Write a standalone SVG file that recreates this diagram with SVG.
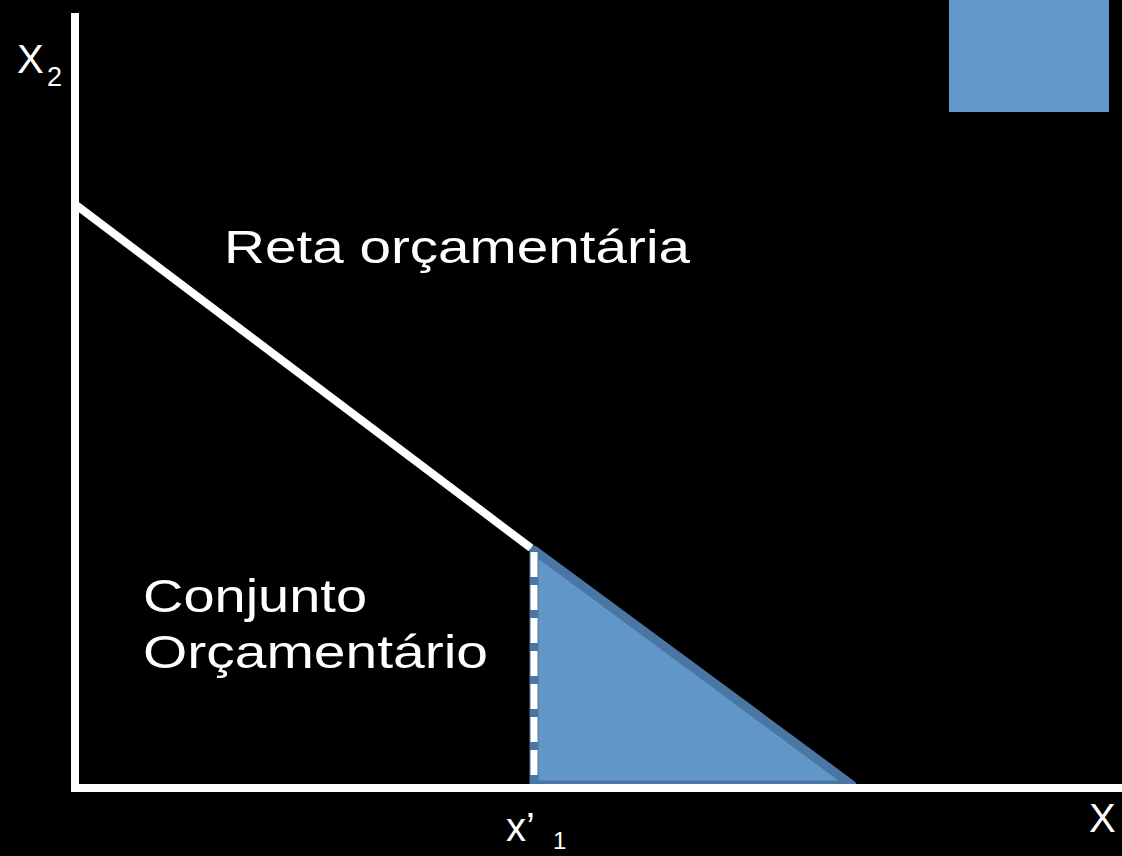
<svg xmlns="http://www.w3.org/2000/svg" width="1122" height="856" viewBox="0 0 1122 856">
<style>
.t{font-family:"Liberation Sans","DejaVu Sans",sans-serif;fill:#ffffff;}
.ax{stroke:#ffffff;stroke-width:8;fill:none;}
</style>
<rect x="0" y="0" width="1122" height="856" fill="#000000"/>
<g id="legend-box"><rect x="949" y="0" width="160" height="112" fill="#6398CA"/></g>
<g id="budget-set">
<polygon points="534,550 534,785 852,785" fill="#6196C9" stroke="#4A76A3" stroke-width="9" stroke-linejoin="round"/>
<line x1="534" y1="552" x2="534" y2="780" stroke="#ffffff" stroke-width="7" stroke-dasharray="25,8"/>
</g>
<g id="connectors">
<line class="ax" x1="75" y1="13" x2="75" y2="792"/>
<line class="ax" x1="71" y1="788" x2="1122" y2="788"/>
<line class="ax" x1="76" y1="205" x2="531" y2="548"/>
</g>
<g id="labels">
<text class="t" x="17" y="73" font-size="40">X</text>
<text class="t" x="47" y="86" font-size="27">2</text>
<text class="t" x="224" y="263" font-size="47" textLength="466" lengthAdjust="spacingAndGlyphs">Reta orçamentária</text>
<text class="t" x="143" y="612" font-size="47" textLength="224" lengthAdjust="spacingAndGlyphs">Conjunto</text>
<text class="t" x="143" y="668" font-size="47" textLength="345" lengthAdjust="spacingAndGlyphs">Orçamentário</text>
<text class="t" x="506" y="841" font-size="40">x’</text>
<text class="t" x="553" y="849" font-size="24">1</text>
<text class="t" x="1089" y="832" font-size="40">X</text>
</g>
</svg>
